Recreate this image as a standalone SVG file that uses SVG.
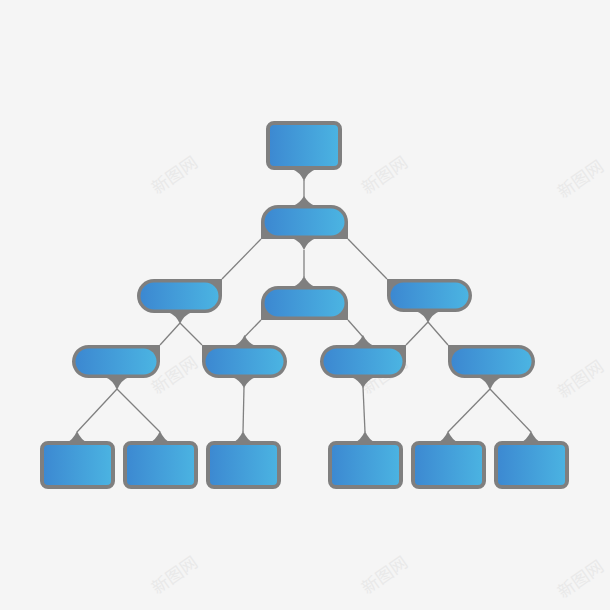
<svg xmlns="http://www.w3.org/2000/svg" width="610" height="610" viewBox="0 0 610 610">
<defs>
<linearGradient id="g" x1="0" y1="0" x2="1" y2="0">
<stop offset="0" stop-color="#3c88d1"/>
<stop offset="1" stop-color="#4bb4e2"/>
</linearGradient>
</defs>
<style>
.o{fill:#7f7f7f}
.i{fill:url(#g)}
.r{fill:url(#g);stroke:#7f7f7f;stroke-width:4}
.t{fill:#7f7f7f}
.c line{stroke:#808080;stroke-width:1.3}
.w{font-family:"Noto Sans CJK SC","Noto Sans",sans-serif;font-size:17px;fill:#e9e9e9;text-anchor:middle}
</style>
<rect width="610" height="610" fill="#f5f5f5"/>
<g id="watermarks">
<text class="w" transform="translate(178,180) rotate(-35)">新图网</text>
<text class="w" transform="translate(388,180) rotate(-35)">新图网</text>
<text class="w" transform="translate(584,184) rotate(-35)">新图网</text>
<text class="w" transform="translate(178,380) rotate(-35)">新图网</text>
<text class="w" transform="translate(388,380) rotate(-35)">新图网</text>
<text class="w" transform="translate(584,384) rotate(-35)">新图网</text>
<text class="w" transform="translate(178,580) rotate(-35)">新图网</text>
<text class="w" transform="translate(388,580) rotate(-35)">新图网</text>
<text class="w" transform="translate(584,584) rotate(-35)">新图网</text>
</g>
<g id="connectors" class="c">
<line x1="304" y1="180" x2="304" y2="198"/>
<line x1="261" y1="239" x2="222" y2="279"/>
<line x1="348" y1="239" x2="387" y2="279"/>
<line x1="304" y1="250" x2="304" y2="277"/>
<line x1="180" y1="323" x2="160" y2="345"/>
<line x1="180" y1="323" x2="202" y2="345"/>
<line x1="261" y1="320" x2="244.5" y2="337"/>
<line x1="348" y1="320" x2="363" y2="337"/>
<line x1="428" y1="322" x2="406" y2="345"/>
<line x1="428" y1="322" x2="448" y2="345"/>
<line x1="117" y1="389" x2="77" y2="432"/>
<line x1="117" y1="389" x2="160" y2="432"/>
<line x1="244" y1="387" x2="243" y2="432"/>
<line x1="363" y1="387" x2="365" y2="432"/>
<line x1="490" y1="389" x2="448" y2="432"/>
<line x1="490" y1="389" x2="531" y2="432"/>
</g>
<g id="nT">
<rect class="r" x="268" y="123" width="72" height="45" rx="6"/>
<path class="t" d="M292,169 Q300,172 304,181 Q308,172 316,169 Z"/>
</g>
<g id="nA">
<path class="o" d="M278,205 H331 A17,17 0 0 1 348,222 V239 H261 V222 A17,17 0 0 1 278,205 Z"/>
<rect class="i" x="264.5" y="208.5" width="80" height="27" rx="13.5"/>
<path class="t" d="M293,206 Q300,203 304,196 Q308,203 315,206 Z"/>
<path class="t" d="M292,238 Q300,241 304,250 Q308,241 316,238 Z"/>
</g>
<g id="nB">
<path class="o" d="M154,279 H222 V296 A17,17 0 0 1 205,313 H154 A17,17 0 0 1 154,279 Z"/>
<rect class="i" x="140.5" y="282.5" width="78" height="27" rx="13.5"/>
<path class="t" d="M168,312 Q176,315 180,324 Q184,315 192,312 Z"/>
</g>
<g id="nC">
<path class="o" d="M278,286 H331 A17,17 0 0 1 348,303 V320 H261 V303 A17,17 0 0 1 278,286 Z"/>
<rect class="i" x="264.5" y="289.5" width="80" height="27" rx="13.5"/>
<path class="t" d="M293,287 Q300,284 304,276 Q308,284 315,287 Z"/>
</g>
<g id="nD">
<path class="o" d="M387,279 H455.5 A16.5,16.5 0 0 1 455.5,312 H403.5 A16.5,16.5 0 0 1 387,295.5 Z"/>
<rect class="i" x="390.5" y="282.5" width="78" height="26" rx="13"/>
<path class="t" d="M416,311 Q424,314 428,323 Q432,314 440,311 Z"/>
</g>
<g id="nE">
<path class="o" d="M88.5,345 H160 V361.5 A16.5,16.5 0 0 1 143.5,378 H88.5 A16.5,16.5 0 0 1 88.5,345 Z"/>
<rect class="i" x="75.5" y="348.5" width="81" height="26" rx="13"/>
<path class="t" d="M105,377 Q113,380 117,390 Q121,380 129,377 Z"/>
</g>
<g id="nF">
<path class="o" d="M202,345 H270.5 A16.5,16.5 0 0 1 270.5,378 H218.5 A16.5,16.5 0 0 1 202,361.5 Z"/>
<rect class="i" x="205.5" y="348.5" width="78" height="26" rx="13"/>
<path class="t" d="M233.5,346 Q241,343 244.5,335 Q248,343 255.5,346 Z"/>
<path class="t" d="M232,377 Q240,380 244,388 Q248,380 256,377 Z"/>
</g>
<g id="nG">
<path class="o" d="M336.5,345 H406 V361.5 A16.5,16.5 0 0 1 389.5,378 H336.5 A16.5,16.5 0 0 1 336.5,345 Z"/>
<rect class="i" x="323.5" y="348.5" width="79" height="26" rx="13"/>
<path class="t" d="M352,346 Q359,343 363,335 Q367,343 374,346 Z"/>
<path class="t" d="M351,377 Q359,380 363,388 Q367,380 375,377 Z"/>
</g>
<g id="nH">
<path class="o" d="M448,345 H518.5 A16.5,16.5 0 0 1 518.5,378 H464.5 A16.5,16.5 0 0 1 448,361.5 Z"/>
<rect class="i" x="451.5" y="348.5" width="80" height="26" rx="13"/>
<path class="t" d="M478,377 Q486,380 490,390 Q494,380 502,377 Z"/>
</g>
<g id="nI">
<rect class="r" x="42" y="443" width="71" height="44" rx="6"/>
<path class="t" d="M66,443 Q73,440 77,431 Q81,440 88,443 Z"/>
</g>
<g id="nJ">
<rect class="r" x="125" y="443" width="71" height="44" rx="6"/>
<path class="t" d="M149,443 Q156,440 160,431 Q164,440 171,443 Z"/>
</g>
<g id="nK">
<rect class="r" x="208" y="443" width="71" height="44" rx="6"/>
<path class="t" d="M232,443 Q239,440 243,431 Q247,440 254,443 Z"/>
</g>
<g id="nL">
<rect class="r" x="330" y="443" width="71" height="44" rx="6"/>
<path class="t" d="M354,443 Q361,440 365,431 Q369,440 376,443 Z"/>
</g>
<g id="nM">
<rect class="r" x="413" y="443" width="71" height="44" rx="6"/>
<path class="t" d="M437,443 Q444,440 448,431 Q452,440 459,443 Z"/>
</g>
<g id="nN">
<rect class="r" x="496" y="443" width="71" height="44" rx="6"/>
<path class="t" d="M520,443 Q527,440 531,431 Q535,440 542,443 Z"/>
</g>
</svg>
